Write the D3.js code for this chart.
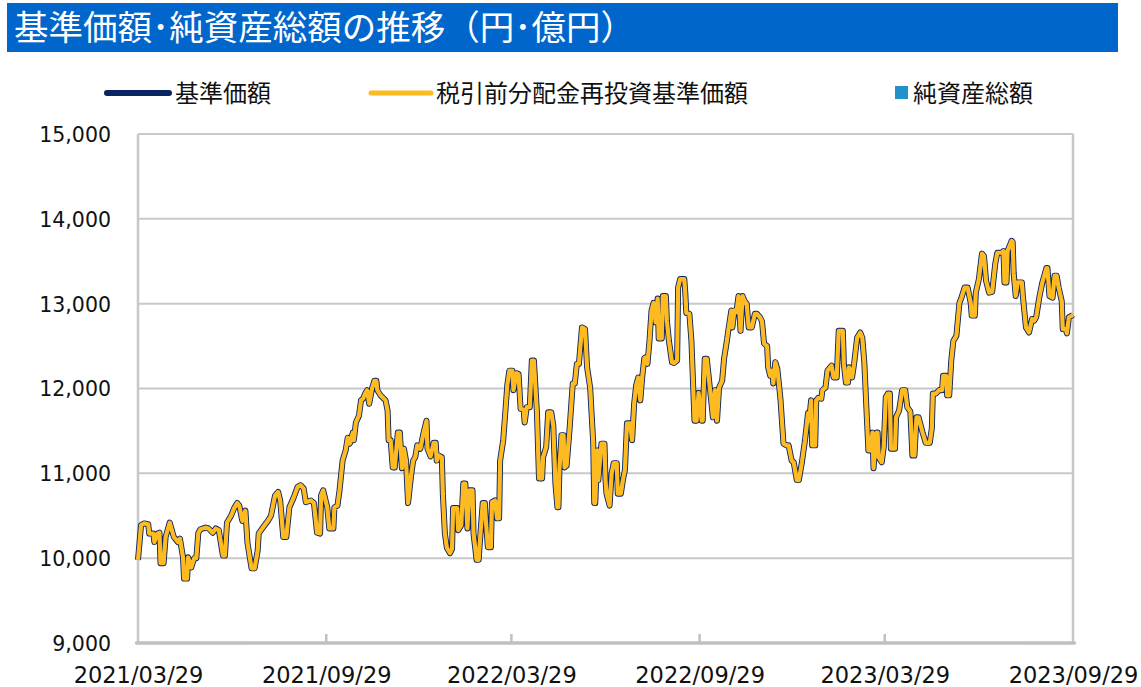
<!DOCTYPE html>
<html>
<head>
<meta charset="utf-8">
<script src="https://cdn.jsdelivr.net/npm/d3@7"></script>
<style>
  html, body { margin: 0; padding: 0; background: #fff; }
  svg { display: block; }
</style>
</head>
<body>
<svg id="chart" width="1141" height="687"></svg>
<script>
// ---------------- DATA ----------------
const titleText = "基準価額･純資産総額の推移（円･億円）";
const seriesNames = ["基準価額", "税引前分配金再投資基準価額", "純資産総額"];
const startDate = "2021-03-29";
const endDate = "2023-09-29";
const tickLabels = ["2021/03/29", "2021/09/29", "2022/03/29", "2022/09/29", "2023/03/29", "2023/09/29"];
const yTicks = [9000, 10000, 11000, 12000, 13000, 14000, 15000];

// days elapsed since startDate
const dayOffsets = [
  0,3,6,10,11,15,16,19,21,22,25,27,31,35,39,41,44,45,48,49,52,55,57,59,61,66,69,73,76,79,83,85,87,91,94,97,99,
  102,105,107,111,114,117,118,122,127,130,134,137,139,142,145,148,152,156,159,162,164,169,172,175,178,179,181,185,187,191,192,195,197,
  200,203,205,207,210,211,213,216,218,220,222,224,226,229,231,233,234,237,242,244,245,247,249,251,254,256,258,260,262,264,267,269,271,273,276,279,282,283,286,289,291,292,294,297,298,
  300,302,305,307,308,312,313,316,318,320,322,324,327,328,331,333,335,337,339,340,342,345,346,349,351,353,354,357,359,361,363,366,367,370,372,374,377,378,380,383,385,387,390,392,395,396,399,
  401,404,406,408,410,411,412,414,416,417,419,422,425,427,429,431,434,437,439,442,445,446,447,449,450,453,456,457,458,461,463,465,468,469,472,474,476,478,481,483,485,487,489,491,493,495,497,498,
  500,502,504,506,508,509,512,513,516,517,519,522,524,527,528,530,534,535,536,539,541,544,546,548,551,552,554,556,559,562,564,566,568,571,573,576,577,580,581,583,585,587,589,591,593,595,597,
  600,603,605,608,610,612,615,616,618,620,621,623,625,628,631,634,636,639,641,644,646,649,652,655,656,658,659,662,663,665,668,669,672,674,678,680,683,685,689,690,692,694,695,698,
  700,703,706,708,710,712,714,716,718,719,722,723,724,727,729,731,733,735,736,738,740,741,744,747,750,752,755,757,759,761,763,767,770,774,776,777,780,783,786,787,790,791,793,795,797,
  800,803,805,808,811,814,815,818,819,822,825,827,829,832,835,838,840,844,846,847,849,850,854,855,856,858,860,864,865,868,871,874,876,878,881,884,888,889,891,894,896,898,
  900,903,904,907,908,910,913,914
];

// 基準価額 (円)
const navValues = [
  9980,10390,10410,10400,10290,10290,10190,10290,10300,9940,9940,10250,10420,10250,10190,10230,10010,9760,9760,10010,9890,10000,10000,10300,10340,10360,10350,10300,10350,10330,10030,10030,10420,10500,10590,10650,10620,
  10440,10560,10180,9880,9880,10090,10290,10360,10440,10500,10740,10780,10680,10250,10250,10600,10710,10840,10860,10820,10660,10680,10650,10300,10290,10740,10800,10600,10350,10350,10600,10620,10800,
  11150,11270,11420,11350,11480,11390,11600,11680,11860,11880,11940,11980,11820,12010,12090,12090,11980,11920,11860,11740,11390,11390,11070,11070,11480,11480,11060,11290,11150,10650,10980,11150,11190,11330,11290,11470,11620,11290,11200,11360,11360,11150,11210,11190,10760,
  10290,10120,10060,10110,10590,10590,10330,10390,10880,10880,10350,10800,10800,10290,9980,9980,10330,10650,10650,10450,10130,10130,10660,10680,10470,10470,11150,11390,11710,12040,12210,12210,11980,12180,12170,11760,11750,11600,11780,11780,12330,12330,11710,10940,10940,11190,11310,
  11720,11720,11560,10890,10600,10600,11060,11450,11450,11070,11090,11540,12060,12060,12290,12290,12720,12700,12250,12010,11360,10650,10650,11270,10920,11350,11350,10920,10760,10620,11000,11120,11120,10760,10760,10920,11040,11590,11590,11390,11820,12040,12130,11860,12150,12360,12370,12290,
  12560,12920,13010,12780,13060,12590,12590,13090,13090,12800,12560,12310,12300,12330,13190,13290,13290,13130,12890,12880,12560,11620,11620,11950,11620,11620,12350,12350,12010,11660,11980,11620,12010,12090,12360,12590,12680,12920,12720,12920,12900,13090,12680,13090,13030,13000,12720,
  12720,12880,12880,12840,12790,12530,12500,12250,12150,12210,12060,12310,12230,11880,11350,11330,11330,11150,11130,10920,10920,11130,11390,11710,11620,11860,11330,11330,11860,11890,11880,11980,12010,12210,12270,12130,12130,12680,12680,12290,12070,12070,12250,12130,
  12290,12600,12660,12600,12310,11780,11270,11270,11480,11060,11480,11480,11190,11130,11310,11900,11940,11940,11290,11290,11290,11660,11740,11980,11980,11780,11730,11210,11210,11660,11660,11480,11360,11360,11530,11940,11940,11980,11980,12150,12150,11920,11920,12330,12560,
  12620,13010,13070,13190,13190,13010,12860,12860,13130,13290,13590,13560,13270,13130,13140,13470,13600,13600,13620,13250,13250,13620,13740,13730,13360,13090,13250,13250,13090,12720,12660,12820,12800,12840,13070,13250,13420,13420,13090,13070,13330,13330,
  13190,13030,12700,12700,12650,12840,12860,12870
];

// 税引前分配金再投資基準価額 (円): no distributions in the period, identical to 基準価額 in the chart
const reinvestValues = navValues.slice();

// ---------------- CHART ----------------
const svg = d3.select("#chart");
const plot = { left: 138, right: 1073, top: 134, bottom: 643 };

const parse = d3.timeParse("%Y-%m-%d");
const parseTick = d3.timeParse("%Y/%m/%d");
const t0 = parse(startDate);
const dates = dayOffsets.map(d => d3.timeDay.offset(t0, d));

const x = d3.scaleTime()
  .domain([t0, parse(endDate)])
  .range([plot.left, plot.right]);
const y = d3.scaleLinear()
  .domain([9000, 15000])
  .range([plot.bottom, plot.top]);

// Title bar
svg.append("rect")
  .attr("x", 7).attr("y", 3).attr("width", 1111).attr("height", 49)
  .attr("fill", "#0066CC");
svg.append("text")
  .attr("x", 14).attr("y", 40)
  .attr("fill", "#ffffff")
  .attr("font-family", "'Noto Sans CJK JP', 'Noto Sans', sans-serif")
  .attr("font-size", 34.5)
  .text(titleText);

// Legend
const legendFont = "'Noto Sans CJK JP', sans-serif";
const lg = svg.append("g");
lg.append("line").attr("x1", 107).attr("x2", 169).attr("y1", 93).attr("y2", 93)
  .attr("stroke", "#0A2461").attr("stroke-width", 6).attr("stroke-linecap", "round");
lg.append("text").attr("x", 175).attr("y", 102).attr("font-size", 24)
  .attr("font-family", legendFont).attr("fill", "#111").text(seriesNames[0]);
lg.append("line").attr("x1", 371).attr("x2", 431).attr("y1", 93).attr("y2", 93)
  .attr("stroke", "#FDBA21").attr("stroke-width", 5).attr("stroke-linecap", "round");
lg.append("text").attr("x", 436).attr("y", 102).attr("font-size", 24)
  .attr("font-family", legendFont).attr("fill", "#111").text(seriesNames[1]);
lg.append("rect").attr("x", 895).attr("y", 86).attr("width", 13).attr("height", 13)
  .attr("fill", "#2291C9");
lg.append("text").attr("x", 913).attr("y", 102).attr("font-size", 24)
  .attr("font-family", legendFont).attr("fill", "#111").text(seriesNames[2]);

// Gridlines
const grid = svg.append("g");
grid.selectAll("line.h")
  .data(yTicks.filter(v => v !== 9000))
  .join("line")
  .attr("x1", plot.left).attr("x2", plot.right)
  .attr("y1", d => y(d)).attr("y2", d => y(d))
  .attr("stroke", "#c8c8c8").attr("stroke-width", 2);
grid.append("line").attr("x1", plot.left).attr("x2", plot.left)
  .attr("y1", plot.top).attr("y2", plot.bottom)
  .attr("stroke", "#c8c8c8").attr("stroke-width", 2.5);
grid.append("line").attr("x1", plot.right).attr("x2", plot.right)
  .attr("y1", plot.top).attr("y2", plot.bottom)
  .attr("stroke", "#c8c8c8").attr("stroke-width", 2.5);

// Y axis labels
const yAxis = d3.axisLeft(y).tickValues(yTicks).tickSize(0).tickPadding(0)
  .tickFormat(d3.format(","));
const yg = svg.append("g").attr("transform", `translate(${plot.left - 27},0)`).call(yAxis);
yg.select(".domain").remove();
yg.selectAll("text")
  .attr("font-family", "'DejaVu Sans', Verdana, sans-serif")
  .attr("font-size", 20.5).attr("fill", "#111").attr("dy", "0.36em");

// X axis
const tickDates = tickLabels.map(s => parseTick(s));
const xAxis = d3.axisBottom(x).tickValues(tickDates).tickSize(0).tickPadding(0)
  .tickFormat((d, i) => tickLabels[i]);
const xg = svg.append("g").attr("transform", `translate(0,${plot.bottom})`).call(xAxis);
xg.select(".domain").remove();
xg.selectAll("text")
  .attr("font-family", "'DejaVu Sans', Verdana, sans-serif")
  .attr("font-size", 22.5).attr("fill", "#111").attr("y", 40).attr("dy", 0);
svg.append("g").selectAll("line")
  .data(tickDates.slice(1, -1))
  .join("line")
  .attr("x1", d => x(d)).attr("x2", d => x(d))
  .attr("y1", plot.bottom).attr("y2", plot.bottom - 9)
  .attr("stroke", "#c0c0c0").attr("stroke-width", 2.5);
svg.append("line").attr("x1", plot.left - 1.5).attr("x2", plot.right + 1.5)
  .attr("y1", plot.bottom).attr("y2", plot.bottom)
  .attr("stroke", "#c0c0c0").attr("stroke-width", 3.5).attr("stroke-linecap", "round");

// Lines
const line = d3.line()
  .x((d, i) => x(dates[i]))
  .y(d => y(d));
svg.append("path")
  .datum(navValues)
  .attr("d", line)
  .attr("fill", "none")
  .attr("stroke", "#0A2461")
  .attr("stroke-width", 6)
  .attr("stroke-linejoin", "round");
svg.append("path")
  .datum(reinvestValues)
  .attr("d", line)
  .attr("fill", "none")
  .attr("stroke", "#FDBA21")
  .attr("stroke-width", 4.2)
  .attr("stroke-linejoin", "round");
</script>
</body>
</html>
